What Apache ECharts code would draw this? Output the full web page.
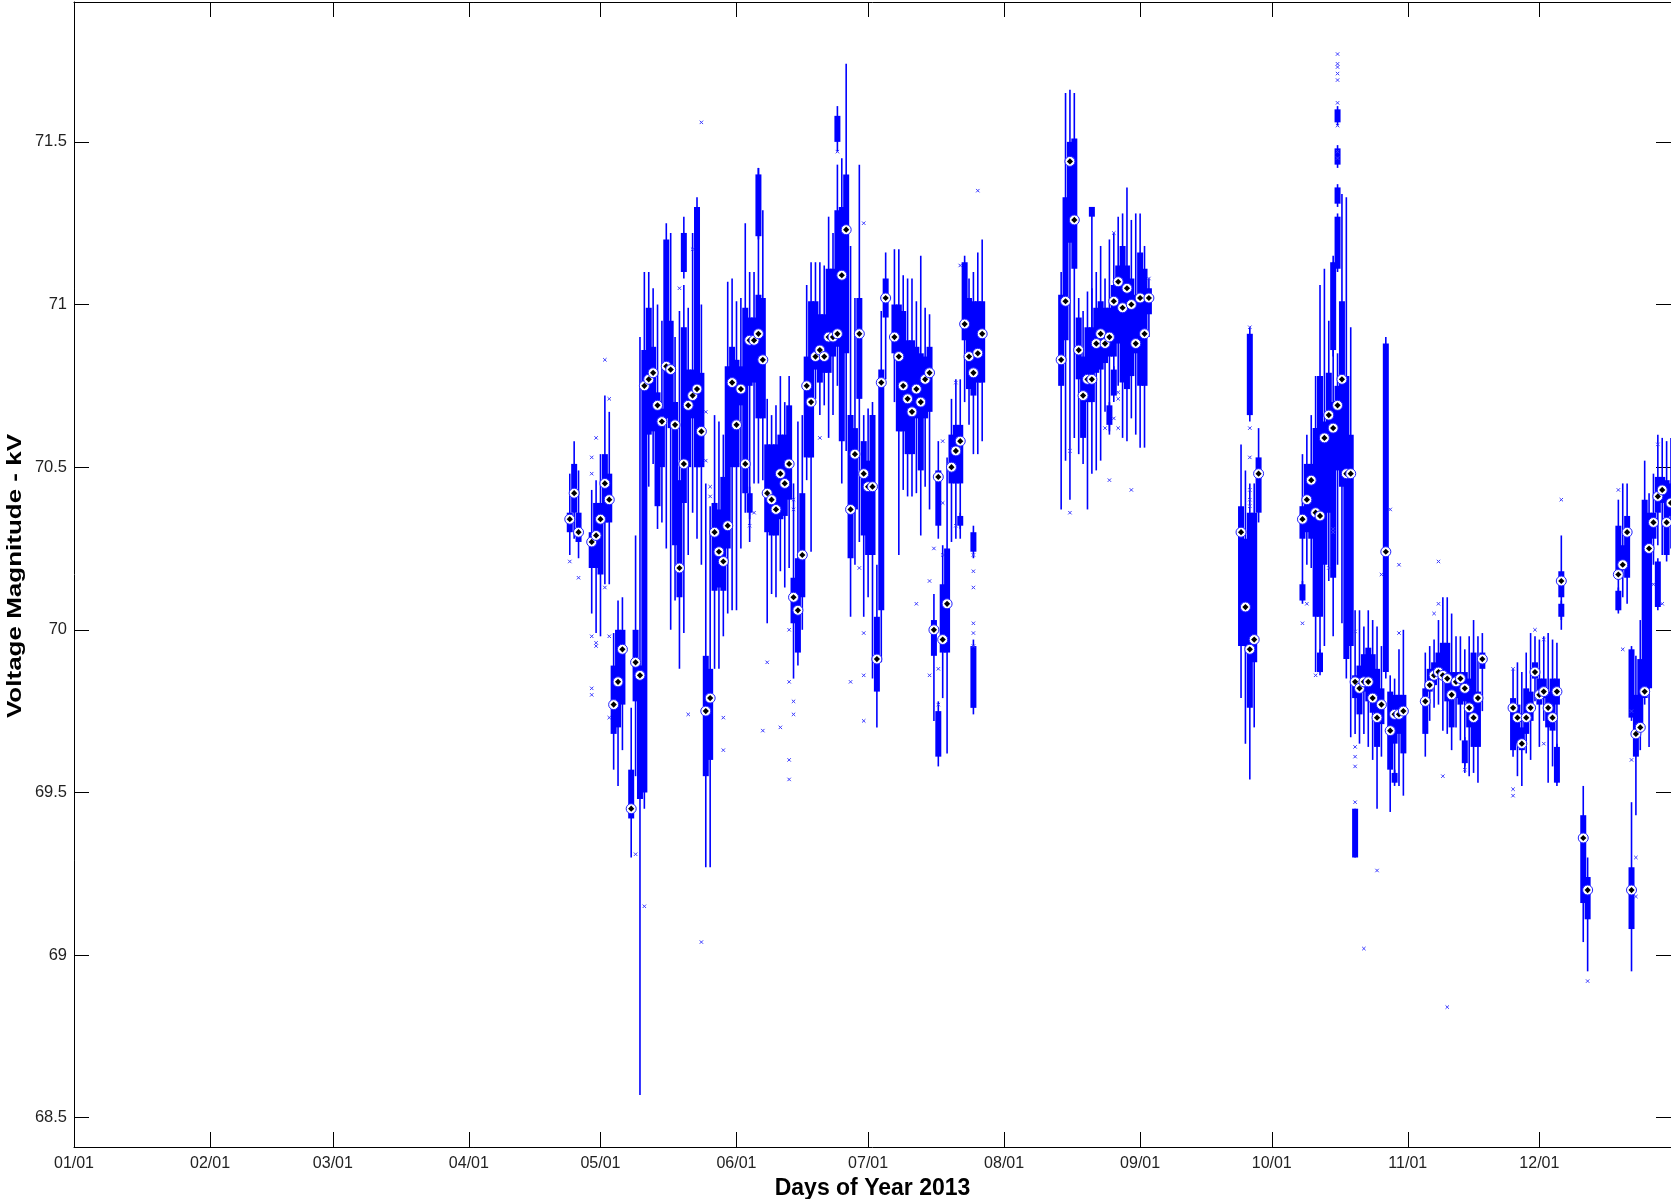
<!DOCTYPE html>
<html><head><meta charset="utf-8">
<script src="https://cdn.jsdelivr.net/npm/echarts@6.0.0/dist/echarts.min.js"></script>
<style>html,body{margin:0;padding:0;background:#fff}#c{width:1671px;height:1199px}</style>
</head><body><div id="c"></div>
<script>
// x positions are day-of-year (0 = Jan 1, 2013)
const monthStarts = [0,31,59,90,120,151,181,212,243,273,304,334];
const monthLabels = ['01/01','02/01','03/01','04/01','05/01','06/01','07/01','08/01','09/01','10/01','11/01','12/01'];
const yTicks = [68.5,69,69.5,70,70.5,71,71.5];

// daily box statistics: whisker low, Q1, median, Q3, whisker high
const days = [
 113,114,115,118,119,120,121,122,123,124,125,127,128,129,130,131,132,133,134,135,136,137,138,139,140,141,142,143,144,145,
 146,147,148,149,150,151,152,153,154,155,156,157,158,159,160,161,162,163,164,165,166,167,168,169,170,171,172,173,174,175,176,177,178,179,180,181,182,
 183,184,185,187,188,189,190,191,192,193,194,195,196,197,198,199,200,201,202,203,204,205,206,207,
 225,226,227,228,229,230,231,232,233,234,235,236,237,238,239,240,241,242,243,244,245,
 266,267,268,269,270,
 280,281,282,283,284,285,286,287,288,289,290,291,292,293,294,295,296,297,298,299,300,301,302,303,
 308,309,310,311,312,313,314,315,316,317,318,319,320,321,
 328,329,330,331,332,333,334,335,336,337,338,339,
 344,345,352,353,354,355,356,357,358,359,360,361,362,363,364];
const lo = [
 70.23,70.28,70.22,70.05,69.99,69.98,70.14,70.14,69.57,69.52,69.63,69.30,69.55,68.57,69.45,70.44,70.51,70.31,70.33,70.25,70.00,70.09,69.88,69.99,70.23,70.36,70.28,70.20,69.27,69.27,
 69.88,69.88,69.98,70.05,70.06,70.06,70.25,70.36,70.27,70.45,70.45,70.46,70.02,70.11,70.10,70.18,70.13,70.19,69.85,69.89,70.00,70.46,70.24,70.71,70.66,70.69,70.59,70.66,70.75,70.45,70.55,70.04,70.20,70.27,70.04,70.10,69.85,
 69.70,69.90,70.77,70.70,70.23,70.43,70.41,70.41,70.42,70.29,70.44,70.37,69.72,70.28,69.79,69.62,70.27,70.28,70.28,70.70,70.63,70.54,70.54,70.58,
 70.37,70.52,70.40,70.59,70.54,70.51,70.37,70.48,70.49,70.52,70.67,70.61,70.76,70.75,70.59,70.58,70.65,70.60,70.56,70.56,70.90,
 69.79,69.65,69.54,69.70,70.33,
 70.09,70.20,70.19,69.87,69.87,69.95,70.15,69.98,70.20,70.02,69.85,69.67,69.68,69.65,69.68,69.64,69.60,69.45,69.61,69.85,69.44,69.53,69.52,69.49,
 69.61,69.72,69.76,69.77,69.69,69.68,69.63,69.70,69.66,69.56,69.55,69.56,69.53,69.75,
 69.61,69.55,69.52,69.62,69.60,69.78,69.64,69.72,69.53,69.58,69.53,70.00,
 69.04,68.95,70.06,70.10,70.08,68.95,69.43,69.63,69.77,69.64,70.20,70.26,70.23,70.21,70.25];
const q1 = [
 70.30,70.36,70.27,70.19,70.19,70.17,70.33,70.33,69.68,69.70,69.77,69.42,69.78,69.48,69.50,70.60,70.61,70.38,70.50,70.65,70.62,70.26,70.10,70.39,70.50,70.65,70.50,70.50,69.55,69.60,
 70.12,70.13,70.12,70.25,70.50,70.50,70.69,70.42,70.75,70.76,70.65,70.65,70.30,70.29,70.29,70.34,70.35,70.40,70.02,69.93,70.10,70.53,70.53,70.80,70.76,70.79,70.79,70.84,70.87,70.58,70.85,70.22,70.37,70.71,70.29,70.23,70.23,
 69.81,70.06,70.96,70.85,70.61,70.61,70.54,70.54,70.65,70.49,70.65,70.67,69.92,70.32,69.93,69.93,70.45,70.45,70.45,70.89,70.74,70.72,70.76,70.76,
 70.75,70.89,71.19,71.11,70.77,70.59,70.70,70.70,70.79,70.80,70.82,70.84,70.84,70.88,70.76,70.74,70.78,70.85,70.75,70.75,70.97,
 69.95,69.95,69.76,69.90,70.36,
 70.28,70.30,70.28,70.04,70.04,70.20,70.36,70.16,70.49,70.44,69.91,69.95,69.79,69.74,69.81,69.78,69.745,69.64,69.71,69.87,69.57,69.65,69.68,69.62,
 69.68,69.81,69.83,69.85,69.85,69.78,69.70,69.79,69.77,69.78,69.70,69.64,69.64,69.88,
 69.63,69.65,69.63,69.68,69.72,69.85,69.77,69.79,69.70,69.69,69.77,70.10,
 69.16,69.11,70.16,70.19,70.16,69.08,69.61,69.69,69.79,69.82,70.28,70.36,70.39,70.23,70.35];
const med = [
 70.34,70.42,70.30,70.27,70.29,70.34,70.45,70.40,69.77,69.84,69.94,69.45,69.90,69.86,70.75,70.77,70.79,70.69,70.64,70.81,70.80,70.63,70.19,70.51,70.69,70.72,70.74,70.61,69.75,69.79,
 70.30,70.24,70.21,70.32,70.76,70.63,70.74,70.51,70.89,70.89,70.91,70.83,70.42,70.40,70.37,70.48,70.45,70.51,70.10,70.06,70.23,70.75,70.70,70.84,70.86,70.84,70.90,70.90,70.91,71.09,71.23,70.37,70.54,70.91,70.48,70.44,70.44,
 69.91,70.76,71.02,70.90,70.84,70.75,70.71,70.67,70.74,70.70,70.77,70.79,70.00,70.47,69.97,70.08,70.50,70.55,70.58,70.94,70.84,70.79,70.85,70.91,
 70.83,71.01,71.44,71.26,70.86,70.72,70.77,70.77,70.88,70.91,70.88,70.90,71.01,71.07,70.99,71.05,71.00,70.88,71.02,70.91,71.02,
 70.30,70.07,69.94,69.97,70.48,
 70.34,70.40,70.46,70.36,70.35,70.59,70.66,70.62,70.69,70.77,70.48,70.48,69.84,69.82,69.84,69.84,69.79,69.73,69.77,70.24,69.69,69.74,69.74,69.75,
 69.78,69.83,69.86,69.87,69.86,69.85,69.80,69.84,69.85,69.82,69.76,69.73,69.79,69.91,
 69.76,69.73,69.65,69.73,69.76,69.87,69.80,69.81,69.76,69.73,69.81,70.15,
 69.36,69.20,70.17,70.20,70.30,69.20,69.68,69.70,69.81,70.25,70.33,70.41,70.43,70.33,70.39];
const q3 = [
 70.36,70.51,70.36,70.30,70.39,70.39,70.54,70.48,69.89,70.00,70.00,69.57,70.00,69.89,70.86,70.99,70.87,70.73,70.68,71.20,70.95,70.70,70.46,70.93,70.80,70.80,71.30,70.79,69.92,69.88,
 70.39,70.37,70.47,70.81,70.87,70.83,70.81,70.99,70.96,70.96,71.03,71.02,70.57,70.57,70.57,70.60,70.60,70.69,70.16,70.22,70.42,70.84,71.01,71.01,70.97,70.97,71.11,71.11,71.29,71.30,71.40,70.66,70.62,71.02,70.58,70.52,70.66,
 70.04,70.80,71.08,71.00,71.00,70.98,70.89,70.89,70.87,70.85,70.84,70.87,70.03,70.49,70.14,70.25,70.60,70.63,70.63,71.13,71.02,71.01,71.01,71.01,
 71.03,71.33,71.50,71.51,70.96,70.84,70.93,70.93,70.99,71.01,70.99,70.99,71.06,71.12,71.18,71.12,71.08,71.03,71.16,71.11,71.05,
 70.38,70.28,70.36,70.36,70.53,
 70.38,70.51,70.51,70.62,70.78,70.64,70.79,70.70,70.75,71.01,70.78,70.60,69.86,69.89,69.925,69.945,69.925,69.88,69.82,70.88,69.81,69.80,69.80,69.80,
 69.82,69.88,69.90,69.93,69.96,69.96,69.87,69.87,69.87,69.87,69.85,69.93,69.81,69.93,
 69.79,69.77,69.70,69.82,69.81,69.90,69.85,69.85,69.81,69.85,69.85,70.18,
 69.43,69.24,70.32,70.26,70.35,69.27,69.80,69.91,70.40,70.36,70.36,70.47,70.47,70.46,70.45];
const hi = [
 70.48,70.58,70.49,70.43,70.46,70.54,70.72,70.67,69.99,70.09,70.10,69.76,70.29,70.90,71.10,71.10,71.05,71.00,70.95,71.25,71.22,70.90,70.98,71.06,70.99,71.22,71.33,71.00,70.45,70.38,
 70.66,70.64,70.60,71.07,71.08,71.01,71.02,71.25,71.10,71.10,71.42,71.29,70.71,70.66,70.69,70.78,70.70,70.78,70.45,70.64,70.66,71.06,71.13,71.13,71.13,71.12,71.27,71.22,71.43,71.45,71.74,71.18,71.02,71.43,70.66,70.68,70.70,
 70.20,70.98,71.16,71.17,71.17,71.09,71.08,71.08,71.01,71.15,70.99,70.97,70.11,70.58,70.26,70.53,70.71,70.77,70.77,71.15,71.08,71.10,71.16,71.20,
 71.10,71.65,71.66,71.65,71.02,70.98,71.04,71.05,71.10,71.18,71.08,71.20,71.22,71.27,71.28,71.36,71.26,71.28,71.28,71.18,71.08,
 70.57,70.49,70.45,70.45,70.62,
 70.54,70.60,70.66,70.78,71.06,71.11,70.95,71.13,70.85,71.34,71.33,70.93,70.06,70.06,70.01,70.06,70.03,70.01,69.95,70.90,69.86,69.85,69.94,70.00,
 69.93,69.95,69.97,70.03,70.10,70.10,70.05,69.98,69.98,69.94,69.98,70.03,69.98,69.99,
 69.88,69.90,69.87,69.93,69.99,69.98,69.97,69.98,69.99,69.97,69.96,70.29,
 69.52,69.30,70.40,70.45,70.45,69.47,69.92,70.03,70.52,70.42,70.48,70.60,70.59,70.58,70.59];

// secondary boxes drawn without a median marker
const exDays = [139,154,156,174,197,202,205,205,232,236,237,268,280,284,287,288,288,288,288,292,301,317,338,339,352,355,361];
const exLo = [71.08,70.34,71.20,71.47,69.58,70.31,69.74,70.22,70.85,70.60,70.70,70.64,70.08,69.86,70.84,71.10,71.30,71.42,71.55,69.30,69.52,69.58,69.52,70.03,70.05,69.72,70.06];
const exQ1 = [71.10,70.36,71.21,71.50,69.61,70.32,69.76,70.24,71.27,70.63,70.72,70.66,70.09,69.87,70.86,71.11,71.31,71.43,71.56,69.30,69.53,69.59,69.53,70.04,70.06,69.73,70.07];
const exQ3 = [71.22,70.42,71.40,71.58,69.75,70.35,69.95,70.30,71.30,70.69,70.80,70.91,70.14,69.93,71.13,71.27,71.36,71.48,71.60,69.45,69.56,69.66,69.64,70.08,70.12,69.94,70.21];
const exHi = [71.27,70.44,71.42,71.61,69.78,70.36,69.97,70.32,71.30,70.70,70.81,70.93,70.15,69.94,71.15,71.28,71.37,71.49,71.61,69.45,69.57,69.67,69.65,70.09,70.13,69.95,70.22];

// outliers
const outDays = [113,115,118,118,118,118,118,119,119,119,121,121,122,122,122,128,130,138,140,141,143,143,144,144,145,145,
 148,148,154,155,157,158,161,163,163,163,163,164,164,164,164,170,174,177,179,180,180,180,180,
 192,195,195,196,197,197,198,198,198,201,201,202,205,205,205,205,205,205,206,
 227,227,235,236,237,237,238,238,238,241,245,
 268,268,268,268,268,268,
 280,281,283,286,287,287,288,288,288,288,288,288,288,288,288,292,292,292,292,292,294,297,298,300,302,302,
 310,311,311,312,313,317,328,328,328,333,335,335,339,
 345,352,353,355,355,356,356,360,361,362];
const outVals = [70.21,70.16,70.53,70.48,69.98,69.82,69.80,70.59,69.96,69.95,70.83,70.13,70.71,69.98,69.73,69.31,69.15,71.05,69.74,71.17,69.04,71.56,70.67,70.52,70.44,70.41,
 69.73,69.63,70.32,70.36,69.69,69.90,69.70,70.00,69.84,69.60,69.54,69.78,69.74,70.37,70.40,70.59,71.47,69.84,70.19,71.25,69.99,69.86,69.72,
 70.08,70.15,69.86,70.25,69.88,69.77,70.23,70.39,70.58,70.76,70.32,71.12,70.23,70.18,70.13,70.02,69.99,69.95,71.35,
 70.55,70.36,70.62,70.46,71.22,70.65,70.73,70.71,70.62,70.43,71.08,
 70.93,70.62,70.53,70.43,70.40,70.38,
 70.02,70.08,69.86,70.19,70.31,70.30,71.77,71.74,71.73,71.71,71.69,71.62,71.55,71.47,71.45,69.995,69.64,69.61,69.58,69.47,69.02,69.26,70.17,70.37,70.20,69.99,
 70.05,70.21,70.08,69.55,68.84,69.57,69.88,69.51,69.49,70.00,69.97,69.65,70.40,
 68.92,70.43,69.94,69.60,69.75,69.30,69.18,70.14,70.57,70.08];

const BLUE = '#0000ff';
const boxData = days.map((d,i)=>[d, lo[i], q1[i], q3[i], hi[i]]);
const exBoxData = exDays.map((d,i)=>[d, exLo[i], exQ1[i], exQ3[i], exHi[i]]);
const medData = days.map((d,i)=>[d, med[i]]);
const outData = outDays.map((d,i)=>[d, outVals[i]]);

function renderBox(params, api){
  const x = api.value(0);
  const pLo = api.coord([x, api.value(1)]);
  const pQ1 = api.coord([x, api.value(2)]);
  const pQ3 = api.coord([x, api.value(3)]);
  const pHi = api.coord([x, api.value(4)]);
  const bw = 6;
  return {type:'group', children:[
    {type:'line', shape:{x1:pLo[0], y1:pLo[1], x2:pHi[0], y2:pHi[1]}, style:{stroke:BLUE, lineWidth:1.6}},
    {type:'rect', shape:{x:pQ1[0]-bw/2, y:pQ3[1], width:bw, height:Math.max(1.5, pQ1[1]-pQ3[1])}, style:{fill:BLUE}}
  ]};
}
function renderMed(params, api){
  const p = api.coord([api.value(0), api.value(1)]);
  const r = 3.1;
  return {type:'group', children:[
    {type:'circle', shape:{cx:p[0], cy:p[1], r:5}, style:{fill:'#fff', stroke:'#2020ff', lineWidth:1}},
    {type:'polygon', shape:{points:[[p[0],p[1]-r],[p[0]+r,p[1]],[p[0],p[1]+r],[p[0]-r,p[1]]]}, style:{fill:'#000'}}
  ]};
}
function renderOut(params, api){
  const p = api.coord([api.value(0), api.value(1)]);
  const s = 1.7;
  return {type:'group', children:[
    {type:'line', shape:{x1:p[0]-s, y1:p[1]-s, x2:p[0]+s, y2:p[1]+s}, style:{stroke:'#3a3aff', lineWidth:1}},
    {type:'line', shape:{x1:p[0]-s, y1:p[1]+s, x2:p[0]+s, y2:p[1]-s}, style:{stroke:'#3a3aff', lineWidth:1}}
  ]};
}

const FONT = 'Liberation Sans, Arial, sans-serif';
const YMIN = 68.41, YMAX = 71.93;
const axisLineStyle = {show:true, onZero:false, lineStyle:{color:'#000', width:1}};
const tickStyle = {color:'#000', width:1};

const chart = echarts.init(document.getElementById('c'), null, {renderer:'canvas'});
chart.setOption({
  animation:false,
  backgroundColor:'#fff',
  grid:{left:74, right:0, top:2, bottom:52, containLabel:false, outerBoundsMode:'none'},
  graphic:[{
    type:'text', x:15, y:576, rotation:Math.PI/2, scaleX:1.3, scaleY:1,
    style:{text:'Voltage Magnitude - kV', font:'bold 20px ' + FONT, fill:'#000',
           textAlign:'center', textVerticalAlign:'middle'}
  }],
  xAxis:[
    {type:'value', min:0, max:364, position:'bottom',
     axisLine:axisLineStyle,
     axisTick:{show:true, inside:true, length:15, customValues:monthStarts, lineStyle:tickStyle},
     axisLabel:{show:true, customValues:monthStarts, margin:9, fontFamily:FONT, fontSize:16, color:'#222',
       formatter:(v)=>monthLabels[monthStarts.indexOf(v)]},
     splitLine:{show:false},
     name:'Days of Year 2013', nameLocation:'middle', nameGap:27,
     nameTextStyle:{fontFamily:FONT, fontWeight:'bold', fontSize:23, color:'#000'}},
    {type:'value', min:0, max:364, position:'top',
     axisLine:axisLineStyle,
     axisTick:{show:true, inside:true, length:15, customValues:monthStarts, lineStyle:tickStyle},
     axisLabel:{show:false, customValues:monthStarts},
     splitLine:{show:false}}
  ],
  yAxis:[
    {type:'value', min:YMIN, max:YMAX, position:'left',
     axisLine:axisLineStyle,
     axisTick:{show:true, inside:true, length:15, customValues:yTicks, lineStyle:tickStyle},
     axisLabel:{show:true, customValues:yTicks, margin:7, fontFamily:FONT, fontSize:16.5, color:'#222',
       formatter:(v)=>String(v)},
     splitLine:{show:false}},
    {type:'value', min:YMIN, max:YMAX, position:'right',
     axisLine:axisLineStyle,
     axisTick:{show:true, inside:true, length:15, customValues:yTicks, lineStyle:tickStyle},
     axisLabel:{show:false, customValues:yTicks},
     splitLine:{show:false}}
  ],
  series:[
    {type:'custom', name:'boxes', xAxisIndex:0, yAxisIndex:0, renderItem:renderBox, data:boxData,
     encode:{x:0, y:[1,2,3,4]}, silent:true, z:2},
    {type:'custom', name:'extra', xAxisIndex:0, yAxisIndex:0, renderItem:renderBox, data:exBoxData,
     encode:{x:0, y:[1,2,3,4]}, silent:true, z:2},
    {type:'custom', name:'outliers', xAxisIndex:0, yAxisIndex:0, renderItem:renderOut, data:outData,
     encode:{x:0, y:1}, silent:true, z:3},
    {type:'custom', name:'median', xAxisIndex:0, yAxisIndex:0, renderItem:renderMed, data:medData,
     encode:{x:0, y:1}, silent:true, z:4}
  ]
});
</script></body></html>
